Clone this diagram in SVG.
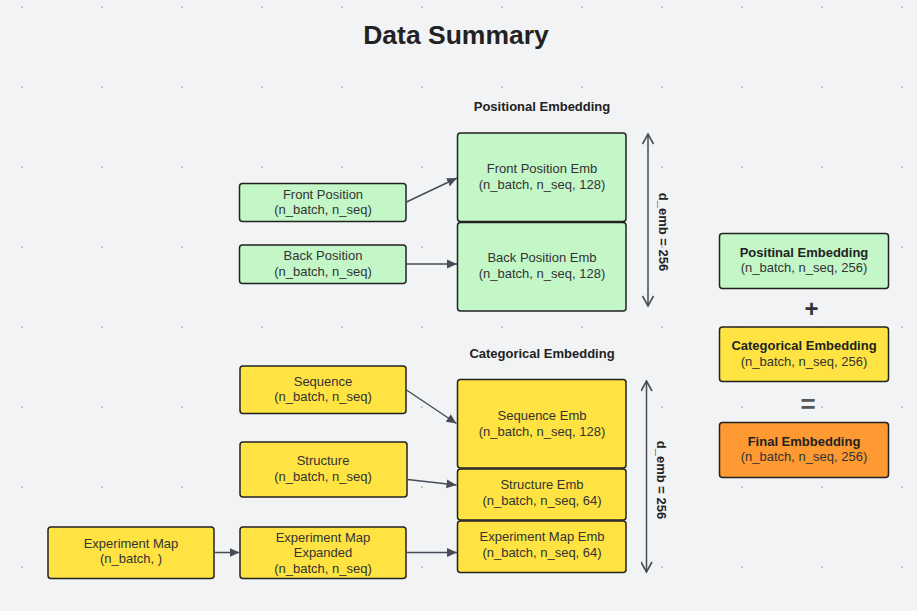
<svg xmlns="http://www.w3.org/2000/svg" width="917" height="611" viewBox="0 0 917 611">
<defs>
<pattern id="grid" x="0" y="0" width="80" height="80" patternUnits="userSpaceOnUse">
<rect x="21" y="6" width="2" height="2" fill="#c4c6cb"/>
</pattern>
<marker id="ah" viewBox="0 0 10 10" refX="10" refY="5" markerWidth="10" markerHeight="10" markerUnits="userSpaceOnUse" orient="auto">
<path d="M0,0.5 L10,5 L0,9.5 Z" fill="#464c57"/>
</marker>
<marker id="chev" viewBox="0 0 12 12" refX="11" refY="6" markerWidth="12" markerHeight="12" markerUnits="userSpaceOnUse" orient="auto-start-reverse">
<path d="M1,0.5 L11,6 L1,11.5" fill="none" stroke="#464c57" stroke-width="1.6"/>
</marker>
<style>
.g{fill:#c3f7c8;stroke:#222;stroke-width:1.5}
.y{fill:#ffe342;stroke:#222;stroke-width:1.5}
.o{fill:#ff9a33;stroke:#222;stroke-width:1.5}
text{font-family:"Liberation Sans",Arial,sans-serif;font-size:13px;fill:#333;text-anchor:middle}
.b{font-weight:bold;fill:#222}
.t{font-weight:bold;font-size:26.5px;fill:#222}
.c{stroke:#464c57;stroke-width:1.5;fill:none;marker-end:url(#ah)}
.d{stroke:#464c57;stroke-width:1.5;fill:none;marker-start:url(#chev);marker-end:url(#chev)}
</style>
</defs>
<rect width="917" height="611" fill="#f2f3f5"/>
<rect width="917" height="611" fill="url(#grid)"/>
<text class="t" x="456" y="44">Data Summary</text>
<text class="b" x="542" y="111">Positional Embedding</text>
<text class="b" x="542" y="358">Categorical Embedding</text>

<g id="front-position"><rect class="g" x="239.5" y="183.5" width="166.5" height="38" rx="3"/><text x="323" y="198.5">Front Position</text><text x="323" y="214">(n_batch, n_seq)</text></g>
<g id="back-position"><rect class="g" x="239.5" y="245" width="166.5" height="38.5" rx="3"/><text x="323" y="260">Back Position</text><text x="323" y="275.5">(n_batch, n_seq)</text></g>
<g id="front-position-emb"><rect class="g" x="457.5" y="133" width="168.5" height="88.5" rx="3"/><text x="542" y="173">Front Position Emb</text><text x="542" y="188.5">(n_batch, n_seq, 128)</text></g>
<g id="back-position-emb"><rect class="g" x="457.5" y="222.5" width="168.5" height="88.5" rx="3"/><text x="542" y="262">Back Position Emb</text><text x="542" y="277.5">(n_batch, n_seq, 128)</text></g>

<g id="sequence"><rect class="y" x="240" y="366" width="166" height="47.5" rx="3"/><text x="323" y="385.5">Sequence</text><text x="323" y="401">(n_batch, n_seq)</text></g>
<g id="structure"><rect class="y" x="240" y="442" width="167" height="55" rx="3"/><text x="323" y="465">Structure</text><text x="323" y="480.5">(n_batch, n_seq)</text></g>
<g id="experiment-map"><rect class="y" x="48" y="527" width="166" height="51.5" rx="3"/><text x="131" y="547.5">Experiment Map</text><text x="131" y="563">(n_batch, )</text></g>
<g id="experiment-map-expanded"><rect class="y" x="240" y="527" width="166" height="51.5" rx="3"/><text x="323" y="541.5">Experiment Map</text><text x="323" y="557">Expanded</text><text x="323" y="572.5">(n_batch, n_seq)</text></g>
<g id="sequence-emb"><rect class="y" x="457.5" y="379.5" width="168.5" height="88.5" rx="3"/><text x="542" y="420">Sequence Emb</text><text x="542" y="435.5">(n_batch, n_seq, 128)</text></g>
<g id="structure-emb"><rect class="y" x="457.5" y="469" width="168.5" height="51" rx="3"/><text x="542" y="489">Structure Emb</text><text x="542" y="504.5">(n_batch, n_seq, 64)</text></g>
<g id="experiment-map-emb"><rect class="y" x="457.5" y="521" width="168.5" height="51.5" rx="3"/><text x="542" y="541">Experiment Map Emb</text><text x="542" y="556.5">(n_batch, n_seq, 64)</text></g>

<g id="positional-embedding"><rect class="g" x="719.5" y="233.5" width="169" height="55" rx="3"/><text class="b" x="804" y="256.5">Positinal Embedding</text><text x="804" y="272">(n_batch, n_seq, 256)</text></g>
<g id="categorical-embedding"><rect class="y" x="719.5" y="327" width="169" height="54.5" rx="3"/><text class="b" x="804" y="350">Categorical Embedding</text><text x="804" y="365.5">(n_batch, n_seq, 256)</text></g>
<g id="final-embedding"><rect class="o" x="719.5" y="422.5" width="169" height="55" rx="3"/><text class="b" x="804" y="445.5">Final Embbedding</text><text x="804" y="461">(n_batch, n_seq, 256)</text></g>
<text x="811.5" y="317" style="font-size:24px;font-weight:bold;fill:#333">+</text>
<text x="808" y="413" style="font-size:26px;font-weight:bold;fill:#555">=</text>

<g id="connectors">
<line class="c" x1="406.5" y1="202" x2="457" y2="178"/>
<line class="c" x1="406.5" y1="264" x2="457" y2="264"/>
<line class="c" x1="406.5" y1="390" x2="456.5" y2="423.5"/>
<line class="c" x1="407.5" y1="479.5" x2="456.5" y2="485"/>
<line class="c" x1="214.5" y1="552.5" x2="239.5" y2="552.5"/>
<line class="c" x1="406.5" y1="552.5" x2="457" y2="552.5"/>
<line class="d" x1="648" y1="134" x2="648" y2="306"/>
<line class="d" x1="646.5" y1="381" x2="646.5" y2="572"/>
</g>
<text class="b" transform="translate(659,232) rotate(90)">d_emb = 256</text>
<text class="b" transform="translate(657,480) rotate(90)">d_emb = 256</text>
</svg>
